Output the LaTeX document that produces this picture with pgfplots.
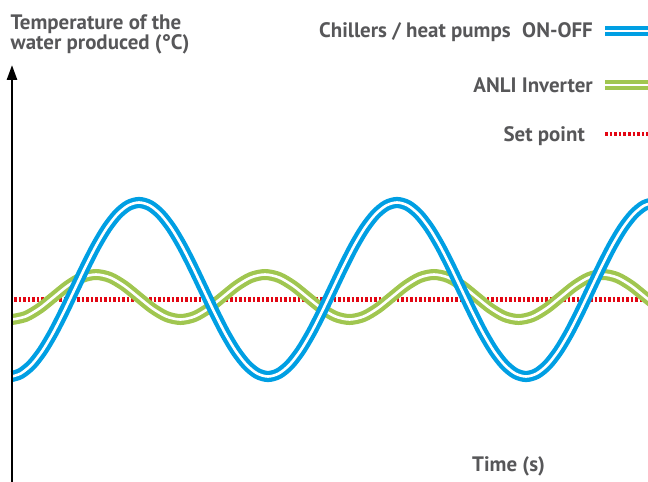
\documentclass[border=0pt]{standalone}
\usepackage{fontspec}
\setmainfont{PT Sans}
\usepackage{pgfplots}
\pgfplotsset{compat=1.18}
\usetikzlibrary{arrows.meta}
\definecolor{cblue}{RGB}{0,159,227}
\definecolor{cgreen}{RGB}{160,198,80}
\definecolor{cred}{RGB}{227,6,19}
\definecolor{cgray}{RGB}{87,87,89}
\begin{document}
\begin{tikzpicture}
\begin{axis}[
  scale only axis, width=648bp, height=482bp,
  xmin=0, xmax=648, ymin=0, ymax=482, y dir=reverse,
  hide axis,
]
\path (rel axis cs:0,0) rectangle (rel axis cs:1,1);
% set point
\addplot[cred, line width=4.2bp, dash pattern=on 2.5bp off 2bp] coordinates {(14,299.5) (648,299.5)};
% ANLI inverter
\addplot[cgreen, smooth, line width=4.2bp, double=white, double distance=2.6bp] coordinates {
(12,319.5) (25.58,316.5) (39.67,308.25) (53.75,297) (67.83,285.75) (81.92,277.5)
(96,274.5) (110.08,277.5) (124.17,285.75) (138.25,297) (152.33,308.25) (166.42,316.5)
(180.5,319.5) (194.58,316.5) (208.67,308.25) (222.75,297) (236.83,285.75) (250.92,277.5)
(265,274.5) (279.08,277.5) (293.17,285.75) (307.25,297) (321.33,308.25) (335.42,316.5)
(349.5,319.5) (363.58,316.5) (377.67,308.25) (391.75,297) (405.83,285.75) (419.92,277.5)
(434,274.5) (448.08,277.5) (462.17,285.75) (476.25,297) (490.33,308.25) (504.42,316.5)
(518.5,319.5) (532.58,316.5) (546.67,308.25) (560.75,297) (574.83,285.75) (588.92,277.5)
(603,274.5) (617.08,277.5) (631.17,285.75) (645.25,297) (659.33,308.25)
};
% chillers ON-OFF
\addplot[cblue, smooth, line width=4.3bp, double=white, double distance=2.6bp] coordinates {
(12,376.4) (20.75,373.5) (31.5,364.8) (42.25,351.0) (53,333.0) (63.75,312.0)
(74.5,289.5) (85.25,267.0) (96,246.0) (106.75,228.0) (117.5,214.2) (128.25,205.5)
(139,202.5) (149.75,205.5) (160.5,214.2) (171.25,228.0) (182,246.0) (192.75,267.0)
(203.5,289.5) (214.25,312.0) (225,333.0) (235.75,351.0) (246.5,364.8) (257.25,373.5)
(268,376.5) (278.75,373.5) (289.5,364.8) (300.25,351.0) (311,333.0) (321.75,312.0)
(332.5,289.5) (343.25,267.0) (354,246.0) (364.75,228.0) (375.5,214.2) (386.25,205.5)
(397,202.5) (407.75,205.5) (418.5,214.2) (429.25,228.0) (440,246.0) (450.75,267.0)
(461.5,289.5) (472.25,312.0) (483,333.0) (493.75,351.0) (504.5,364.8) (515.25,373.5)
(526,376.5) (536.75,373.5) (547.5,364.8) (558.25,351.0) (569,333.0) (579.75,312.0)
(590.5,289.5) (601.25,267.0) (612,246.0) (622.75,228.0) (633.5,214.2) (644.25,205.5)
(655,202.5)
};
% y axis
\draw[black, line width=2.6bp, -{Triangle[width=10bp,length=15bp]}] (axis cs:12,482) -- (axis cs:12,65);
% legend samples
\draw[cblue, line width=3.6bp, double=white, double distance=2.6bp] (axis cs:605,31) -- (axis cs:648,31);
\draw[cgreen, line width=3.6bp, double=white, double distance=2.6bp] (axis cs:605,85) -- (axis cs:648,85);
\draw[cred, line width=4.2bp, dash pattern=on 2.5bp off 2.1bp] (axis cs:605,134) -- (axis cs:648,134);
% texts
\begin{scope}[every node/.style={text=cgray, inner sep=0pt, font=\fontsize{21}{23}\selectfont\bfseries}]
\node[anchor=base west] at (axis cs:10.5,29.3) {Temperature of the};
\node[anchor=base west] at (axis cs:10.5,50) {water produced (°C)};
\node[anchor=base east] at (axis cs:593,37.5) {Chillers / heat pumps\hspace{0.3em} ON-OFF};
\node[anchor=base east] at (axis cs:593,92) {ANLI Inverter};
\node[anchor=base east] at (axis cs:585,141.5) {Set point};
\node[anchor=base west] at (axis cs:472,471) {Time (s)};
\end{scope}
\end{axis}
\end{tikzpicture}
\end{document}
